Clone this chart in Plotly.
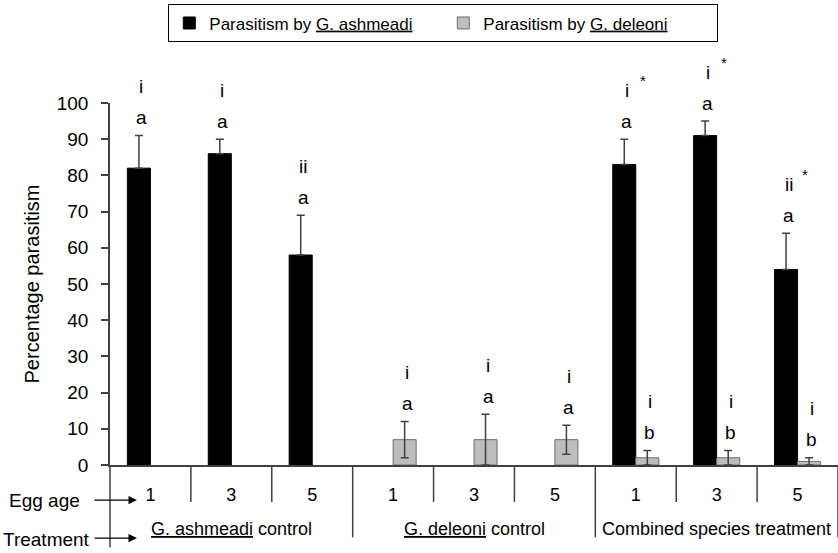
import plotly.graph_objects as go

# ---- data ----
cat_index = [0, 1, 2, 3, 4, 5, 6, 7, 8]
egg_age = ["1", "3", "5", "1", "3", "5", "1", "3", "5"]
treatments = ["<u>G. ashmeadi</u> control", "<u>G. deleoni</u> control", "Combined species treatment"]
treatment_center = [1, 4, 7]

ashmeadi = [82, 86, 58, None, None, None, 83, 91, 54]
ashmeadi_err = [9, 4, 11, None, None, None, 7, 4, 10]
deleoni = [None, None, None, 7, 7, 7, 2, 2, 1]
deleoni_err = [None, None, None, 5, 7, 4, 2, 2, 1]

ash_letter = ["a", "a", "a", None, None, None, "a", "a", "a"]
ash_roman = ["i", "i", "ii", None, None, None, "i", "i", "ii"]
ash_star = [None, None, None, None, None, None, "*", "*", "*"]
del_letter = [None, None, None, "a", "a", "a", "b", "b", "b"]
del_roman = [None, None, None, "i", "i", "i", "i", "i", "i"]

FONT = "Arial, Liberation Sans, sans-serif"
LINE = "#404040"
FS_LET = 19
FS_TICK = 19

fig = go.Figure()
fig.add_trace(go.Bar(
    x=cat_index, y=ashmeadi, name="Parasitism by <u>G. ashmeadi</u>",
    marker=dict(color="black", line=dict(color="black", width=1)),
    error_y=dict(type="data", array=ashmeadi_err, symmetric=False,
                 arrayminus=[0 if v is not None else None for v in ashmeadi_err],
                 color=LINE, thickness=1.5, width=4),
))
fig.add_trace(go.Bar(
    x=cat_index, y=deleoni, name="Parasitism by <u>G. deleoni</u>",
    marker=dict(color="#bdbdbd", line=dict(color="#6e6e6e", width=1)),
    error_y=dict(type="data", array=deleoni_err, color=LINE, thickness=1.5, width=4),
))

annotations = []


def add_labels(vals, errs, letters, romans, xshift):
    for i, (v, e, l, r) in enumerate(zip(vals, errs, letters, romans)):
        if v is None:
            continue
        top = v + e
        if l:
            annotations.append(dict(x=cat_index[i], y=top, xref="x", yref="y", text=l,
                                    showarrow=False, yanchor="middle", yshift=18, xshift=xshift,
                                    font=dict(size=FS_LET, family=FONT, color="black")))
        if r:
            annotations.append(dict(x=cat_index[i], y=top, xref="x", yref="y", text=r,
                                    showarrow=False, yanchor="middle", yshift=49, xshift=xshift,
                                    font=dict(size=FS_LET, family=FONT, color="black")))


add_labels(ashmeadi, ashmeadi_err, ash_letter, ash_roman, -9)
add_labels(deleoni, deleoni_err, del_letter, del_roman, 14)
for i, s in enumerate(ash_star):
    if s:
        annotations.append(dict(x=cat_index[i], y=ashmeadi[i] + ashmeadi_err[i], xref="x", yref="y",
                                text=s, showarrow=False, yanchor="middle", yshift=59, xshift=7,
                                font=dict(size=15, family=FONT, color="black")))

for name, c in zip(treatments, treatment_center):
    annotations.append(dict(x=c, y=-0.176, xref="x", yref="paper", text=name, showarrow=False,
                            yanchor="middle", font=dict(size=18, family=FONT, color="black")))

# row labels with arrows
annotations.append(dict(x=-0.142, y=-0.097, xref="paper", yref="paper", text="Egg age",
                        showarrow=False, xanchor="left", yanchor="middle",
                        font=dict(size=19, family=FONT, color="black")))
annotations.append(dict(x=-0.150, y=-0.205, xref="paper", yref="paper", text="Treatment",
                        showarrow=False, xanchor="left", yanchor="middle",
                        font=dict(size=19, family=FONT, color="black")))
for yy in (-0.097, -0.202):
    annotations.append(dict(x=0.037, y=yy, xref="paper", yref="paper", text="", showarrow=True,
                            ax=-44, ay=0, arrowhead=2, arrowsize=1.3, arrowwidth=1.3,
                            arrowcolor="black"))

shapes = []
for b in [0.5, 1.5, 2.5, 3.5, 4.5, 5.5, 6.5, 7.5, 8.5]:
    long = b in (2.5, 5.5, 8.5)
    shapes.append(dict(type="line", xref="x", yref="paper", x0=b, x1=b, y0=0,
                       y1=-0.2 if long else -0.102, line=dict(color=LINE, width=1.5)))
shapes.append(dict(type="line", xref="paper", yref="paper", x0=0, x1=0, y0=0, y1=-0.227,
                   line=dict(color=LINE, width=1.5)))

fig.update_layout(
    width=838, height=553,
    margin=dict(l=110, r=0, t=103, b=88),
    plot_bgcolor="white", paper_bgcolor="white",
    barmode="group", bargap=0.43, bargroupgap=0,
    font=dict(family=FONT, size=FS_TICK, color="black"),
    showlegend=True,
    legend=dict(orientation="h", xref="container", yref="container", x=0.529, xanchor="center",
                y=0.992, yanchor="top", bordercolor="black", borderwidth=1,
                font=dict(size=17, family=FONT, color="black"), entrywidth=229,
                entrywidthmode="pixels", itemwidth=30),
    annotations=annotations,
    shapes=shapes,
)
fig.update_xaxes(range=[-0.5, 8.5], tickvals=cat_index, ticktext=egg_age, showline=True,
                 linecolor=LINE, linewidth=1.5, ticks="", showgrid=False, zeroline=False,
                 ticklabelstandoff=13, tickfont=dict(size=18, family=FONT, color="black"))
fig.update_yaxes(range=[0, 100], dtick=10, showline=True, linecolor=LINE, linewidth=1.5,
                 ticks="outside", ticklen=7, tickcolor=LINE, tickwidth=1.5, showgrid=False,
                 zeroline=False, ticklabelstandoff=9,
                 tickfont=dict(size=FS_TICK, family=FONT, color="black"),
                 title=dict(text="Percentage parasitism", standoff=12,
                            font=dict(size=20, family=FONT, color="black")))

fig.write_html("out.html")
